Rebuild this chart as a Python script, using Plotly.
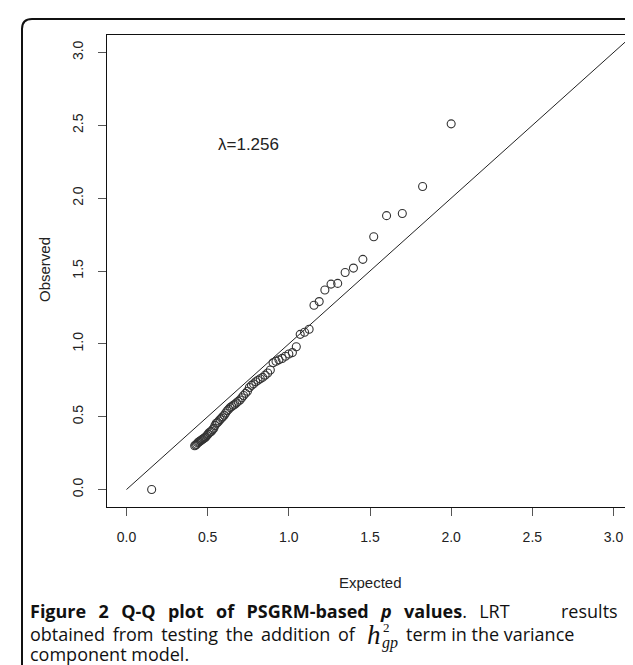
import plotly.graph_objects as go

# ---- data ----
expected = [2.0, 1.824, 1.699, 1.602, 1.523, 1.456, 1.398, 1.347, 1.301, 1.26,
            1.222, 1.187, 1.155, 1.125, 1.097, 1.07, 1.046,
            1.022, 1.0, 0.979, 0.959, 0.939, 0.921, 0.903, 0.886,
            0.870, 0.854, 0.839, 0.824, 0.810, 0.796, 0.783, 0.770, 0.757, 0.745,
            0.733, 0.721, 0.710, 0.699, 0.688, 0.678, 0.668, 0.658, 0.648, 0.638,
            0.629, 0.620, 0.611, 0.602, 0.593, 0.585, 0.577, 0.569, 0.561, 0.553,
            0.545, 0.538, 0.530, 0.523, 0.516, 0.509, 0.502, 0.495, 0.488, 0.482,
            0.475, 0.469, 0.462, 0.456, 0.450, 0.444, 0.438, 0.432, 0.426, 0.420,
            0.155]
observed = [2.51, 2.08, 1.895, 1.88, 1.735, 1.58, 1.52, 1.49, 1.415, 1.41,
            1.37, 1.29, 1.265, 1.10, 1.08, 1.065, 0.98,
            0.94, 0.93, 0.915, 0.90, 0.89, 0.88, 0.87, 0.82,
            0.80, 0.785, 0.77, 0.76, 0.75, 0.74, 0.725, 0.715, 0.70, 0.675,
            0.66, 0.645, 0.63, 0.615, 0.605, 0.595, 0.585, 0.578, 0.57, 0.562,
            0.55, 0.54, 0.525, 0.51, 0.50, 0.49, 0.48, 0.47, 0.46, 0.455,
            0.44, 0.42, 0.41, 0.40, 0.395, 0.39, 0.38, 0.37, 0.36, 0.355,
            0.35, 0.345, 0.34, 0.335, 0.33, 0.325, 0.32, 0.31, 0.305, 0.30,
            0.0]
diag_line = [0.0, 3.2]
tick_values = [0.0, 0.5, 1.0, 1.5, 2.0, 2.5, 3.0]
tick_labels = ["0.0", "0.5", "1.0", "1.5", "2.0", "2.5", "3.0"]
axis_range = [-0.12, 3.12]
lambda_label = "λ=1.256"

W, H = 633, 665
ML, MR, MT, MB = 99, 8, 27, 166
PW, PH = W - ML - MR, H - MT - MB


def px_x(px):
    return (px - ML) / PW


def px_y(py):
    return (H - MB - py) / PH


fig = go.Figure()
fig.add_trace(go.Scatter(x=diag_line, y=diag_line, mode="lines",
                         line=dict(color="#222", width=1), hoverinfo="skip",
                         showlegend=False))
fig.add_trace(go.Scatter(x=expected, y=observed, mode="markers",
                         marker=dict(symbol="circle-open", size=8,
                                     line=dict(color="#333", width=1.1),
                                     color="#333"),
                         showlegend=False))

axis_common = dict(range=axis_range, tickvals=tick_values, ticktext=tick_labels,
                   showline=True, linecolor="#111", linewidth=1, mirror=True,
                   ticks="outside", ticklen=8, tickcolor="#555", tickwidth=1,
                   showgrid=False, zeroline=False,
                   tickfont=dict(family="Liberation Sans, Arial", size=14, color="#222"))

fig.update_xaxes(**axis_common, ticklabelstandoff=9)
fig.update_yaxes(**axis_common, tickangle=-90, ticklabelstandoff=9)

lab_font = dict(family="Liberation Sans, Arial", size=15, color="#222")
annotations = [
    dict(x=0.75, y=2.37, xref="x", yref="y", text=lambda_label, showarrow=False,
         xanchor="center", yanchor="middle",
         font=dict(family="Liberation Sans, Arial", size=17, color="#222")),
    dict(x=px_x(362), y=px_y(574), xref="paper", yref="paper", text="Expected",
         xanchor="center", yanchor="middle", showarrow=False, font=lab_font),
    dict(x=px_x(36), y=px_y(262), xref="paper", yref="paper", text="Observed",
         textangle=-90, xanchor="center", yanchor="middle", showarrow=False,
         font=lab_font),
]

cap_size = 18
cap_font = dict(family="Open Sans", size=cap_size, color="#111")
sp = " \u00a0\u2009"
line1 = ("<b>Figure" + sp + "2" + sp + "Q-Q" + sp + "plot" + sp + "of" + sp +
         "PSGRM-based" + sp + "<i>p</i>" + sp + "values</b>." + sp + "LRT")
ts = " \u2009"
line2a = ("obtained" + ts + "from" + ts + "testing" + ts + "the" + ts +
          "addition" + ts + "of")
L1, L2, L3 = 603, 626, 646


def cap(x, y, text, anchor="left", font=cap_font):
    return dict(x=px_x(x), y=px_y(y), xref="paper", yref="paper", xanchor=anchor,
                yanchor="middle", text=text, showarrow=False, font=font)


annotations += [
    cap(20, L1, line1),
    cap(612, L1, "results", anchor="right"),
    cap(20, L2, line2a),
    cap(357, L2 + 1, "<i>h</i>", font=dict(family="Liberation Serif", size=27, color="#111")),
    cap(373, L2 - 7, "2", font=dict(family="Liberation Serif", size=13, color="#111")),
    cap(372, L2 + 9, "<i>gp</i>", font=dict(family="Liberation Serif", size=16, color="#111")),
    cap(396, L2, "term in the variance"),
    cap(20, L3, "component model."),
]

# rounded frame around the whole figure
x0, x1 = px_x(14), px_x(632)
yt, yb = px_y(11), px_y(720)
rx, ry = 10 / PW, 10 / PH
frame = (f"M {x0+rx},{yt} L {x1-rx},{yt} Q {x1},{yt} {x1},{yt-ry} "
         f"L {x1},{yb} L {x0},{yb} L {x0},{yt-ry} Q {x0},{yt} {x0+rx},{yt} Z")

fig.update_layout(
    width=W, height=H,
    margin=dict(l=ML, r=MR, t=MT, b=MB),
    paper_bgcolor="white", plot_bgcolor="white",
    annotations=annotations,
    shapes=[dict(type="path", path=frame, xref="paper", yref="paper",
                 line=dict(color="#111", width=2), layer="below")],
)

fig.write_html("out.html")
